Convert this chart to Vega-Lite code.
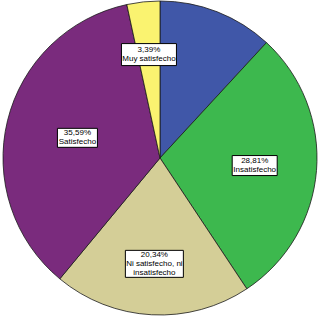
{
  "$schema": "https://vega.github.io/schema/vega-lite/v6.json",
  "width": 320,
  "height": 316,
  "padding": 0,
  "autosize": "none",
  "config": {"view": {"stroke": null}},
  "data": {
    "values": [
      {"orden": 1, "cat": "Muy insatisfecho", "pct": 11.86, "etiqueta": ["11,86%", "Muy insatisfecho"]},
      {"orden": 2, "cat": "Insatisfecho", "pct": 28.81, "etiqueta": ["28,81%", "Insatisfecho"]},
      {"orden": 3, "cat": "Ni satisfecho, ni insatisfecho", "pct": 20.34, "etiqueta": ["20,34%", "Ni satisfecho, ni", "insatisfecho"]},
      {"orden": 4, "cat": "Satisfecho", "pct": 35.59, "etiqueta": ["35,59%", "Satisfecho"]},
      {"orden": 5, "cat": "Muy satisfecho", "pct": 3.39, "etiqueta": ["3,39%", "Muy satisfecho"]}
    ]
  },
  "transform": [
    {"window": [{"op": "sum", "field": "pct", "as": "acum"}], "sort": [{"field": "orden"}], "frame": [null, 0]},
    {"joinaggregate": [{"op": "sum", "field": "pct", "as": "tot"}]},
    {"calculate": "2 * PI * (datum.acum - datum.pct / 2) / datum.tot", "as": "ang"},
    {"calculate": "datum.cat === 'Muy satisfecho' ? 104 : datum.cat === 'Insatisfecho' ? 95 : datum.cat === 'Satisfecho' ? 85 : 106", "as": "rl"},
    {"calculate": "datum.rl * sin(datum.ang)", "as": "lx"},
    {"calculate": "datum.rl * cos(datum.ang)", "as": "ly"}
  ],
  "layer": [
    {
      "mark": {"type": "arc", "radius": 157, "stroke": "#1a1a1a", "strokeWidth": 0.8},
      "encoding": {
        "theta": {"field": "pct", "type": "quantitative", "stack": true},
        "order": {"field": "orden", "type": "quantitative"},
        "color": {
          "field": "cat",
          "type": "nominal",
          "scale": {
            "domain": ["Muy insatisfecho", "Insatisfecho", "Ni satisfecho, ni insatisfecho", "Satisfecho", "Muy satisfecho"],
            "range": ["#4057A8", "#3DB84E", "#D4CE97", "#7A2B7D", "#FAF370"]
          },
          "legend": null
        }
      }
    },
    {
      "transform": [{"filter": "datum.cat !== 'Muy insatisfecho'"}],
      "mark": {"type": "point", "filled": true, "fill": "#ffffff", "stroke": "#000000", "strokeWidth": 1, "opacity": 1, "size": 4},
      "encoding": {
        "x": {"field": "lx", "type": "quantitative", "scale": {"domain": [-160, 160], "nice": false, "zero": false}, "axis": null},
        "y": {"field": "ly", "type": "quantitative", "scale": {"domain": [-158, 158], "nice": false, "zero": false}, "axis": null},
        "shape": {
          "condition": [
            {"test": "datum.cat === 'Muy satisfecho'", "value": "M-27.5,-11L27.5,-11L27.5,11L-27.5,11Z"},
            {"test": "datum.cat === 'Insatisfecho'", "value": "M-22.5,-10L22.5,-10L22.5,10L-22.5,10Z"},
            {"test": "datum.cat === 'Satisfecho'", "value": "M-20,-9.5L20,-9.5L20,9.5L-20,9.5Z"}
          ],
          "value": "M-29,-13.5L29,-13.5L29,13.5L-29,13.5Z"
        }
      }
    },
    {
      "transform": [{"filter": "datum.cat !== 'Muy insatisfecho' && length(datum.etiqueta) === 2"}],
      "mark": {"type": "text", "font": "Liberation Sans", "fontSize": 8, "lineHeight": 9, "dy": -4.5, "fill": "#000", "align": "center", "baseline": "middle"},
      "encoding": {
        "x": {"field": "lx", "type": "quantitative"},
        "y": {"field": "ly", "type": "quantitative"},
        "text": {"field": "etiqueta", "type": "nominal"}
      }
    },
    {
      "transform": [{"filter": "length(datum.etiqueta) === 3"}],
      "mark": {"type": "text", "font": "Liberation Sans", "fontSize": 8, "lineHeight": 9, "dy": -9, "fill": "#000", "align": "center", "baseline": "middle"},
      "encoding": {
        "x": {"field": "lx", "type": "quantitative"},
        "y": {"field": "ly", "type": "quantitative"},
        "text": {"field": "etiqueta", "type": "nominal"}
      }
    }
  ]
}
